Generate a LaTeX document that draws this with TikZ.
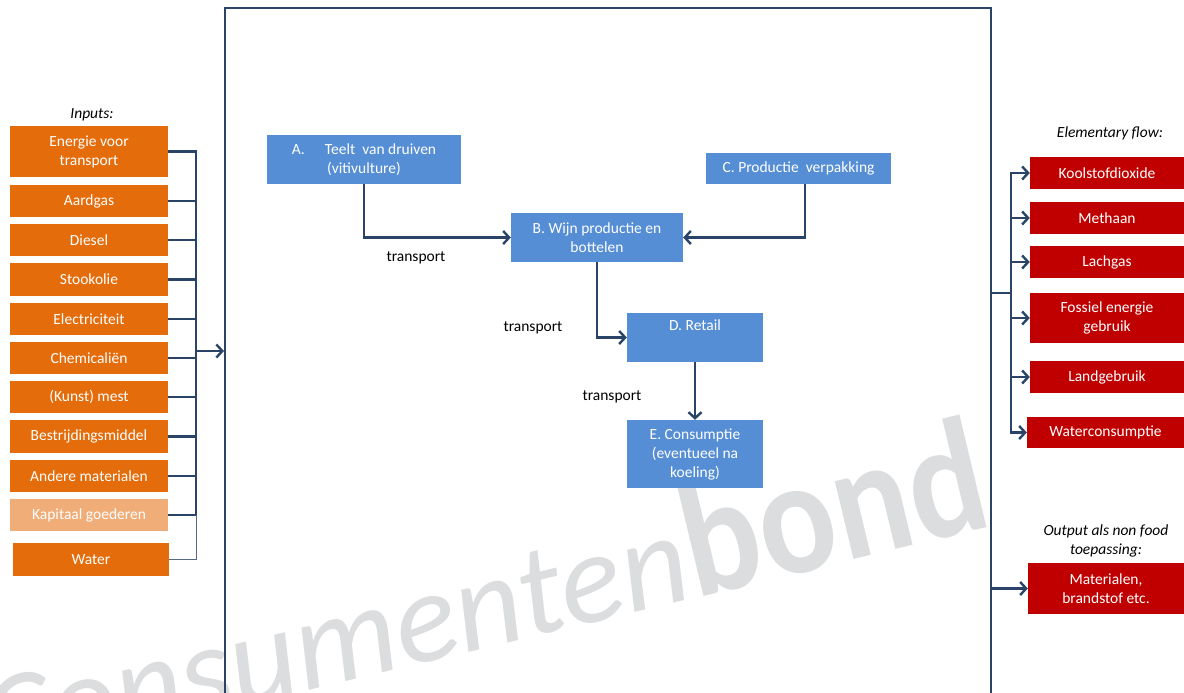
\documentclass[tikz,border=0pt]{standalone}
\usepackage{fontspec}
\setmainfont{Carlito}
\usepackage{tikz}
\usetikzlibrary{arrows.meta,positioning,calc}
\definecolor{wijnoranje}{HTML}{E46C0A}
\definecolor{wijnlicht}{HTML}{F1AD78}
\definecolor{wijnrood}{HTML}{C00000}
\definecolor{wijnblauw}{HTML}{558ED5}
\definecolor{wijnnavy}{HTML}{2A4468}
\definecolor{wijngrijs}{HTML}{DCDDDF}

\begin{document}
\begin{tikzpicture}[
    x=1pt,y=-1pt,
    tekst/.style   = {font=\fontsize{15.5}{19}\selectfont, align=center},
    invoer/.style  = {tekst, fill=wijnoranje, text=white,
                      minimum width=158pt, inner sep=0pt},
    uitvoer/.style = {tekst, fill=wijnrood, text=white,
                      minimum width=154pt, inner sep=0pt},
    stap/.style    = {tekst, fill=wijnblauw, text=white, inner sep=0pt},
    kop/.style     = {font=\fontsize{15.5}{19}\selectfont\itshape, align=center},
    lijn/.style    = {wijnnavy, line width=2.4pt},
    pijl/.style    = {lijn, -{Straight Barb[length=6pt,width=13pt]}},
  ]

  \useasboundingbox (0,0) rectangle (1184,693);
  \clip (0,0) rectangle (1184,693);

  % ── Watermerk ───────────────────────────────────────────────────────────
  \node[text=wijngrijs, rotate=13.5, anchor=base east, inner sep=0pt] (merk)
       at (995,526)
       {\fontsize{130}{130}\selectfont\itshape Consumenten%
        \scalebox{0.87}[1]{\fontsize{165}{165}\selectfont\upshape\bfseries bond}};

  % ── Systeemgrens ────────────────────────────────────────────────────────
  \node[draw=wijnnavy, line width=2pt, minimum width=766pt,
        minimum height=712pt, inner sep=0pt] (kader) at (608,364) {};

  % ── Inputs ──────────────────────────────────────────────────────────────
  \node[kop] (inputs) at (92,115) {Inputs:};

  \node[invoer, minimum height=51pt] (energie)     at (89,151.5) {Energie voor\\transport};
  \node[invoer, minimum height=32pt] (aardgas)     at (89,201)   {Aardgas};
  \node[invoer, minimum height=32pt] (diesel)      at (89,240)   {Diesel};
  \node[invoer, minimum height=33pt] (stookolie)   at (89,279.5) {Stookolie};
  \node[invoer, minimum height=32pt] (elektr)      at (89,319)   {Electriciteit};
  \node[invoer, minimum height=32pt] (chemie)      at (89,358)   {Chemicaliën};
  \node[invoer, minimum height=32pt] (mest)        at (89,397)   {(Kunst) mest};
  \node[invoer, minimum height=33pt] (bestrijding) at (89,436.5) {Bestrijdingsmiddel};
  \node[invoer, minimum height=32pt] (andere)      at (89,476)   {Andere materialen};
  \node[invoer, minimum height=32pt, fill=wijnlicht] (kapitaal) at (89,515) {Kapitaal goederen};
  \node[invoer, minimum height=33pt, minimum width=156pt] (water) at (91,559.5) {Water};

  \coordinate (bus)    at (196,0);
  \coordinate (inpunt) at (196,351);

  \draw[lijn] (energie.east) -| (kapitaal.east -| bus) -- (kapitaal.east);
  \foreach \b in {aardgas,diesel,stookolie,elektr,chemie,mest,bestrijding,andere}
    \draw[lijn] (\b.east) -- (\b.east -| bus);
  \draw[wijnnavy!80, line width=1pt] (water.east) -| (kapitaal.east -| bus);
  \draw[pijl] (inpunt) -- (inpunt -| kader.west);

  % ── Ketenstappen ────────────────────────────────────────────────────────
  \node[stap, minimum width=194pt, minimum height=49pt] (teelt)      at (364,159.5)
       {A.\hspace{1.3em}Teelt\ \ van druiven\\(vitivulture)};
  \node[stap, minimum width=185pt, minimum height=31pt] (verpakking) at (798.5,168.5)
       {C. Productie\ \ verpakking};
  \node[stap, minimum width=172pt, minimum height=49pt] (wijn)       at (597,237.5)
       {B. Wijn productie en\\bottelen};
  \node[stap, minimum width=136pt, minimum height=49pt] (retail)     at (695,337.5)
       {D. Retail\\\strut};
  \node[stap, minimum width=136pt, minimum height=68pt] (consumptie) at (695,454)
       {E. Consumptie\\(eventueel na\\koeling)};

  \draw[pijl] (teelt.south) |- (wijn.west);
  \draw[pijl] ([xshift=6.5pt]verpakking.south) |- (wijn.east);
  \draw[pijl] (wijn.south) |- (retail.west);
  \draw[pijl] (retail.south) -- (consumptie.north);

  \node[tekst] (transport1) at (416,258) {transport};
  \node[tekst] (transport2) at (533,328) {transport};
  \node[tekst] (transport3) at (612,397) {transport};

  % ── Elementary flow ─────────────────────────────────────────────────────
  \node[kop] (flow) at (1110,133) {Elementary flow:};

  \node[uitvoer, minimum height=32pt] (kooldioxide) at (1107,173)   {Koolstofdioxide};
  \node[uitvoer, minimum height=32pt] (methaan)     at (1107,218)   {Methaan};
  \node[uitvoer, minimum height=32pt] (lachgas)     at (1107,262)   {Lachgas};
  \node[uitvoer, minimum height=50pt] (fossiel)     at (1107,318)   {Fossiel energie\\gebruik};
  \node[uitvoer, minimum height=32pt] (land)        at (1107,377)   {Landgebruik};
  \node[uitvoer, minimum height=31pt, minimum width=157pt] (waterverbruik)
       at (1105.5,432.5) {Waterconsumptie};

  \coordinate (uitbus) at (1011,293);
  \draw[lijn] (uitbus -| kader.east) -- (uitbus);
  \draw[lijn, line cap=rect] (uitbus |- kooldioxide.west) -- (uitbus |- waterverbruik.west);
  \foreach \u in {kooldioxide,methaan,lachgas,fossiel,land,waterverbruik}
    \draw[pijl] (uitbus |- \u.west) -- (\u.west);

  % ── Non food output ─────────────────────────────────────────────────────
  \node[kop] (nonfood) at (1106,541) {Output als non food\\toepassing:};
  \node[uitvoer, minimum height=51pt, minimum width=156pt] (materialen)
       at (1106,588.5) {Materialen,\\brandstof etc.};
  \draw[pijl] (materialen.west -| kader.east) -- (materialen.west);

\end{tikzpicture}
\end{document}
